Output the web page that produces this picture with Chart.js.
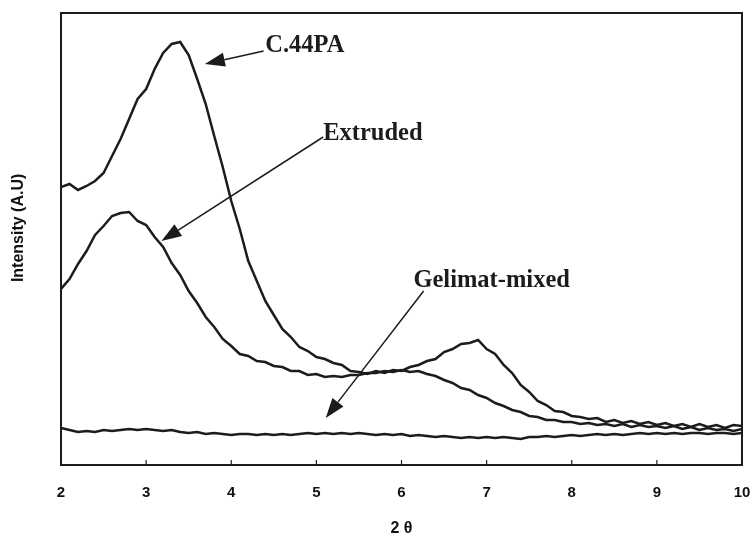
<!DOCTYPE html>
<html>
<head>
<meta charset="utf-8">
<script src="https://cdn.jsdelivr.net/npm/chart.js@4"></script>
<style>
html,body{margin:0;padding:0;background:#fff;}
#wrap{width:753px;height:540px;}
</style>
</head>
<body>
<div id="wrap"><canvas id="c" width="753" height="540"></canvas></div>
<script>
// 2θ positions (categories)
const twoTheta = [2.0,2.1,2.2,2.3,2.4,2.5,2.6,2.7,2.8,2.9,3.0,3.1,3.2,3.3,3.4,3.5,3.6,3.7,3.8,3.9,
  4.0,4.1,4.2,4.3,4.4,4.5,4.6,4.7,4.8,4.9,5.0,5.1,5.2,5.3,5.4,5.5,5.6,5.7,5.8,5.9,
  6.0,6.1,6.2,6.3,6.4,6.5,6.6,6.7,6.8,6.9,7.0,7.1,7.2,7.3,7.4,7.5,7.6,7.7,7.8,7.9,
  8.0,8.1,8.2,8.3,8.4,8.5,8.6,8.7,8.8,8.9,9.0,9.1,9.2,9.3,9.4,9.5,9.6,9.7,9.8,9.9,10.0];

const c44pa = [278,281,275,279,284,292,309,326,346,366,376,396,412,421,423,410,386,361,329,298,
  264,236,204,184,164,150,136,128,118,114,108,106,102,100,94,93,91,94,92,95,
  94,98,100,104,106,113,116,121,122,125,116,111,100,92,80,73,64,60,54,53,
  49,48,46,47,43,45,42,44,41,43,40,42,39,41,38,41,38,40,37,40,39];

const extruded = [176,186,201,214,230,239,249,252,253,244,240,228,218,202,190,174,162,148,138,126,
  119,111,109,104,103,99,98,94,94,90,91,88,89,88,90,90,92,92,94,93,
  95,93,94,91,89,85,82,77,75,70,67,62,59,55,53,49,48,45,45,43,
  43,41,42,40,41,39,41,38,40,38,39,37,39,36,38,35,37,35,36,34,36];

const gelimat = [37,35,33,34,33,35,34,35,36,35,36,35,34,35,33,32,33,31,32,31,
  30,31,31,30,31,30,31,30,31,32,31,32,31,32,31,32,31,30,31,30,
  31,29,30,29,28,29,28,27,28,27,28,27,28,27,26,28,28,29,28,29,
  30,29,30,31,30,31,30,31,32,31,32,31,32,31,32,32,31,32,32,31,32];

const xTicks = [2,3,4,5,6,7,8,9,10];

// annotations in data units: label, text baseline-left (x,y), arrow start (x,y), arrow tip (x,y)
const annLabels = ['C.44PA','Extruded','Gelimat-mixed'];
const annText = [[4.40,413],[5.08,325],[6.14,178]];
const annFrom = [[4.38,414],[5.08,328],[6.26,174]];
const annTip  = [[3.69,401],[3.18,224],[5.11,47]];

function pts(ys){ return twoTheta.map((x,i)=>({x:x,y:ys[i]})); }

const lineColor = '#1c1c1c';

const framePlugin = {
  id:'frame',
  afterDraw(chart){
    const {ctx, chartArea:a, scales:{x,y}} = chart;
    ctx.save();
    ctx.strokeStyle = lineColor;
    ctx.lineWidth = 2;
    ctx.strokeRect(a.left, a.top, a.right-a.left, a.bottom-a.top);
    // inward ticks
    ctx.lineWidth = 1.2;
    xTicks.forEach(v=>{
      const px = x.getPixelForValue(v);
      ctx.beginPath(); ctx.moveTo(px, a.bottom); ctx.lineTo(px, a.bottom-5); ctx.stroke();
    });
    // annotations
    ctx.fillStyle = lineColor;
    ctx.font = 'bold 24.5px "Liberation Serif", "Times New Roman", serif';
    ctx.textBaseline = 'alphabetic';
    ctx.textAlign = 'left';
    annLabels.forEach((t,i)=>{
      ctx.fillText(t, x.getPixelForValue(annText[i][0]), y.getPixelForValue(annText[i][1]));
      const x0 = x.getPixelForValue(annFrom[i][0]), y0 = y.getPixelForValue(annFrom[i][1]);
      const x1 = x.getPixelForValue(annTip[i][0]), y1 = y.getPixelForValue(annTip[i][1]);
      const ang = Math.atan2(y1-y0, x1-x0);
      const L = 20, W = 7;
      const bx = x1 - L*Math.cos(ang), by = y1 - L*Math.sin(ang);
      ctx.lineWidth = 1.5;
      ctx.beginPath(); ctx.moveTo(x0,y0); ctx.lineTo(bx,by); ctx.stroke();
      ctx.beginPath();
      ctx.moveTo(x1,y1);
      ctx.lineTo(bx + W*Math.sin(ang), by - W*Math.cos(ang));
      ctx.lineTo(bx - W*Math.sin(ang), by + W*Math.cos(ang));
      ctx.closePath(); ctx.fill();
    });
    ctx.restore();
  }
};

new Chart(document.getElementById('c'), {
  type:'line',
  data:{
    datasets:[
      {label:'C.44PA', data:pts(c44pa)},
      {label:'Extruded', data:pts(extruded)},
      {label:'Gelimat-mixed', data:pts(gelimat)}
    ].map(d=>Object.assign(d,{borderColor:lineColor,borderWidth:2.5,pointRadius:0,tension:0,fill:false}))
  },
  options:{
    responsive:false,
    animation:false,
    layout:{padding:{top:13,right:11,left:0,bottom:0}},
    plugins:{legend:{display:false},tooltip:{enabled:false}},
    scales:{
      x:{
        type:'linear', min:2, max:10,
        grid:{display:false, drawTicks:false},
        border:{display:false},
        afterFit(s){ s.height = 75; s.paddingLeft = 0; s.paddingRight = 0; },
        afterBuildTicks(s){ s.ticks = xTicks.map(v=>({value:v})); },
        ticks:{padding:19, color:'#111', font:{family:'"Liberation Sans", Arial, sans-serif', size:15, weight:'bold'}},
        title:{display:true, text:'2 θ', color:'#111', padding:{top:0,bottom:2},
          font:{family:'"Liberation Sans", Arial, sans-serif', size:16, weight:'bold'}}
      },
      y:{
        min:0, max:452,
        grid:{display:false, drawTicks:false},
        border:{display:false},
        ticks:{display:false},
        afterFit(s){ s.width = 61; s.paddingTop = 0; s.paddingBottom = 0; },
        title:{display:true, text:'\u00a0\u00a0\u00a0\u00a0\u00a0Intensity (A.U)', color:'#111', padding:{top:9,bottom:0},
          font:{family:'"Liberation Sans", Arial, sans-serif', size:16, weight:'bold'}}
      }
    }
  },
  plugins:[framePlugin]
});
</script>
</body>
</html>
